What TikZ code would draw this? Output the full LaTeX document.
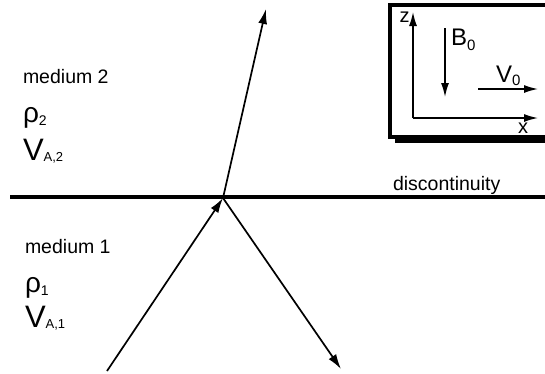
\documentclass[tikz,border=0pt]{standalone}
\usepackage{fontspec}
\setmainfont{Liberation Sans}
\usetikzlibrary{arrows.meta}
\newcommand{\fs}[1]{\fontsize{#1}{#1}\selectfont}
\begin{document}
\begin{tikzpicture}[x=1pt,y=-1pt,
  lbl/.style={anchor=base west,inner sep=0pt,outer sep=0pt},
  ray/.style={line width=1.7pt,-{Latex[length=15pt,width=9pt]}},
  ax/.style={line width=1.5pt,-{Latex[length=14pt,width=8pt]}}]
\useasboundingbox (0,0) rectangle (545,373);
\clip (0,0) rectangle (545,373);
% inset box with shadow
\fill[black] (395,12) rectangle (560,143);
\draw[line width=4pt,fill=white] (389.5,5.3) rectangle (555,137);
% inset axes
\coordinate (O) at (413,118);
\coordinate (Z) at (413,12);
\coordinate (X) at (538,118);
\draw[ax] (O) -- (Z);
\draw[ax] (O) -- (X);
\node[lbl] (zl) at (399.5,22) {\fs{20}z};
\node[lbl] (xl) at (518,133.5) {\fs{20}x};
\coordinate (B1) at (445,28);
\coordinate (B2) at (445,97);
\draw[ax] (B1) -- (B2);
\node[lbl] (Bl) at (451,45.5) {\fs{24}B\raisebox{-5pt}{\fs{15}0}};
\coordinate (V1) at (478,89);
\coordinate (V2) at (538,89);
\draw[ax] (V1) -- (V2);
\node[lbl] (Vl) at (496,82) {\fs{24}V\raisebox{-3pt}{\fs{15}0}};
% discontinuity
\coordinate (L) at (10,197);
\coordinate (R) at (545,197);
\draw[line width=4.5pt] (L) -- (R);
\node[lbl] (disc) at (393,190) {\fs{19.5}discontinuity};
% rays
\coordinate (P) at (223,198);
\coordinate (S) at (107,371);
\coordinate (T) at (266,9);
\coordinate (Q) at (341,369);
\draw[ray] (S) -- (P);
\draw[ray] (P) -- (T);
\draw[ray] (P) -- (Q);
% media labels
\node[lbl] (m2) at (23,83) {\fs{19.5}medium 2};
\node[lbl] (r2) at (23,122) {\fs{28}ρ\raisebox{-3pt}{\fs{14}2}};
\node[lbl] (v2) at (23,160) {\fs{31}V\raisebox{-1pt}{\fs{13}A,2}};
\node[lbl] (m1) at (25,253) {\fs{19.5}medium 1};
\node[lbl] (r1) at (25,292) {\fs{28}ρ\raisebox{-3pt}{\fs{14}1}};
\node[lbl] (v1) at (25,327) {\fs{31}V\raisebox{-1pt}{\fs{13}A,1}};
\end{tikzpicture}
\end{document}
